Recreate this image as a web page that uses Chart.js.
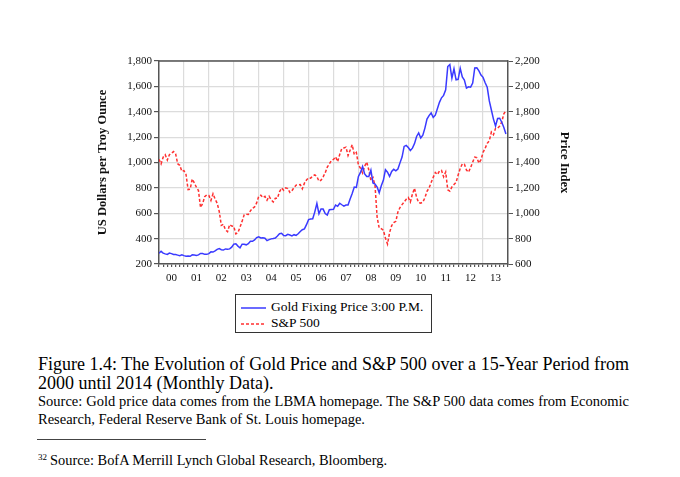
<!DOCTYPE html>
<html>
<head>
<meta charset="utf-8">
<script src="https://cdn.jsdelivr.net/npm/chart.js@4.4.0/dist/chart.umd.min.js"></script>
<style>
  body { margin: 0; background: #fff; font-family: "Liberation Serif", "Times New Roman", serif; color: #000; }
  #wrap { position: relative; width: 680px; height: 477px; overflow: hidden; }
  #chartBox { position: absolute; left: 0; top: 0; width: 680px; height: 292px; }
  #legend { position: absolute; left: 235px; top: 294px; width: 197px; height: 39px; border: 1px solid #333; box-sizing: border-box; font-size: 13.5px; }
  .leg-row { position: absolute; left: 5px; height: 16px; line-height: 16px; white-space: nowrap; }
  .leg-row svg { vertical-align: middle; margin-right: 5px; }
  .line { position: absolute; left: 38px; white-space: nowrap; }
  .just { width: 591px; white-space: normal; text-align: justify; text-align-last: justify; }
  .cap { font-size: 18px; line-height: 20px; }
  .src { font-size: 14.5px; line-height: 17px; }
  .foot { font-size: 14.4px; line-height: 16px; }
  .foot sup { font-size: 9px; vertical-align: 5px; margin-right: 3px; }
  #rule { position: absolute; left: 37px; top: 439px; width: 169px; height: 1px; background: #444; }
</style>
</head>
<body>
<div id="wrap">
  <div id="chartBox"><canvas id="goldChart"></canvas></div>
  <div id="legend"></div>
  <div class="line cap just" style="top:354px">Figure 1.4: The Evolution of Gold Price and S&amp;P 500 over a 15-Year Period from</div>
  <div class="line cap" style="top:373px">2000 until 2014 (Monthly Data).</div>
  <div class="line src just" style="top:393px">Source: Gold price data comes from the LBMA homepage. The S&amp;P 500 data comes from Economic</div>
  <div class="line src" style="top:411px">Research, Federal Reserve Bank of St. Louis homepage.</div>
  <div id="rule"></div>
  <div class="line foot" style="top:449px"><sup>32</sup>Source: BofA Merrill Lynch Global Research, Bloomberg.</div>
</div>
<script>
// monthly data, Jan 2000 .. Dec 2013
const yearLabels = ['00', '01', '02', '03', '04', '05', '06', '07', '08', '09', '10', '11', '12', '13'];

const gold = [
    285, 300, 286, 280, 275, 286, 282, 275, 274, 270, 266, 272,
    266, 262, 263, 261, 272, 270, 268, 272, 283, 283, 276, 276,
    282, 296, 294, 303, 315, 321, 313, 310, 319, 317, 319, 333,
    357, 359, 341, 328, 356, 356, 351, 360, 379, 379, 390, 408,
    414, 405, 407, 403, 384, 392, 398, 401, 405, 421, 439, 442,
    424, 423, 434, 429, 422, 431, 425, 438, 456, 470, 477, 510,
    550, 555, 557, 611, 677, 596, 634, 633, 598, 586, 628, 630,
    631, 665, 655, 679, 667, 656, 665, 665, 713, 755, 806, 803,
    890, 922, 968, 910, 889, 890, 940, 839, 830, 807, 761, 816,
    859, 943, 924, 890, 929, 946, 934, 949, 997, 1043, 1127, 1135,
    1118, 1095, 1113, 1149, 1205, 1233, 1193, 1216, 1271, 1342, 1370, 1391,
    1356, 1373, 1424, 1474, 1510, 1529, 1573, 1756, 1772, 1665, 1739, 1652,
    1656, 1742, 1674, 1650, 1586, 1597, 1594, 1626, 1745, 1747, 1722, 1689,
    1671, 1628, 1593, 1485, 1414, 1342, 1287, 1347, 1349, 1317, 1276, 1225
];

const sp500 = [
    1426, 1389, 1442, 1461, 1419, 1462, 1473, 1486, 1468, 1390, 1378, 1331,
    1336, 1306, 1186, 1190, 1270, 1239, 1205, 1179, 1045, 1077, 1130, 1145,
    1140, 1101, 1154, 1112, 1079, 1014, 904, 913, 868, 855, 910, 899,
    896, 838, 847, 890, 936, 988, 993, 990, 1019, 1039, 1050, 1081,
    1133, 1143, 1124, 1133, 1103, 1133, 1106, 1089, 1118, 1118, 1169, 1199,
    1181, 1200, 1195, 1164, 1178, 1202, 1222, 1224, 1226, 1192, 1237, 1262,
    1279, 1277, 1294, 1302, 1290, 1253, 1260, 1287, 1318, 1363, 1389, 1416,
    1424, 1445, 1407, 1464, 1511, 1515, 1521, 1455, 1497, 1540, 1463, 1479,
    1379, 1355, 1317, 1371, 1403, 1341, 1257, 1282, 1217, 969, 883, 878,
    866, 805, 757, 848, 902, 926, 936, 1010, 1045, 1068, 1088, 1110,
    1124, 1089, 1152, 1197, 1125, 1083, 1080, 1087, 1122, 1172, 1199, 1242,
    1283, 1321, 1305, 1332, 1338, 1287, 1325, 1185, 1174, 1207, 1226, 1243,
    1301, 1353, 1389, 1386, 1341, 1324, 1360, 1403, 1443, 1438, 1395, 1422,
    1480, 1512, 1551, 1571, 1640, 1619, 1669, 1670, 1687, 1720, 1784, 1808
];

const FONT = '"Liberation Serif", "Times New Roman", serif';
const AXIS = '#555';
const GRID = '#dcdcdc';

// top edge of the plot frame
const framePlugin = {
    id: 'frame',
    beforeDatasetsDraw(chart) {
        const { ctx, chartArea: a } = chart;
        ctx.save();
        ctx.strokeStyle = AXIS;
        ctx.lineWidth = 1.5;
        ctx.beginPath();
        ctx.moveTo(a.left, a.top);
        ctx.lineTo(a.right, a.top);
        ctx.stroke();
        ctx.restore();
    }
};

const ctx = document.getElementById('goldChart').getContext('2d');

const chart = new Chart(ctx, {
    type: 'line',
    data: {
        datasets: [
            {
                label: 'Gold Fixing Price 3:00 P.M.',
                data: gold.map((v, i) => ({ x: i, y: v })),
                borderColor: '#3a3aff',
                borderWidth: 1.5,
                pointRadius: 0,
                tension: 0,
                yAxisID: 'y'
            },
            {
                label: 'S&P 500',
                data: sp500.map((v, i) => ({ x: i, y: v })),
                borderColor: '#ff3030',
                borderWidth: 1.5,
                borderDash: [3, 2],
                pointRadius: 0,
                tension: 0,
                yAxisID: 'y1'
            }
        ]
    },
    options: {
        responsive: true,
        maintainAspectRatio: false,
        animation: false,
        layout: { padding: { left: 91, right: 104, top: 61, bottom: 0 } },
        plugins: {
            legend: { display: false },
            tooltip: { enabled: false }
        },
        scales: {
            x: {
                type: 'linear',
                min: 0,
                max: yearLabels.length * 12,
                afterBuildTicks: scale => {
                    const ticks = [];
                    for (let m = 0; m <= yearLabels.length * 12; m += 2) ticks.push({ value: m });
                    scale.ticks = ticks;
                },
                afterFit: scale => { scale.height = 28; },
                ticks: {
                    autoSkip: false,
                    maxRotation: 0,
                    minRotation: 0,
                    padding: 5,
                    color: '#111',
                    font: { family: FONT, size: 11 },
                    callback: v => (v % 12 === 6 ? yearLabels[(v - 6) / 12] : '')
                },
                grid: {
                    color: c => {
                        const v = c.tick ? c.tick.value : 0;
                        return (v % 12 === 0 && v > 0 && v < yearLabels.length * 12) ? GRID : 'rgba(0,0,0,0)';
                    },
                    lineWidth: 1.2,
                    tickColor: AXIS,
                    tickLength: 3
                },
                border: { color: AXIS, width: 1.5 }
            },
            y: {
                position: 'left',
                min: 200,
                max: 1800,
                afterFit: scale => { scale.width = 68; },
                ticks: {
                    stepSize: 200,
                    padding: 2,
                    color: '#111',
                    font: { family: FONT, size: 11 },
                    callback: v => v.toLocaleString('en-US')
                },
                grid: { color: GRID, lineWidth: 1.2, tickColor: AXIS, tickLength: 5 },
                border: { color: AXIS, width: 1.5 },
                title: {
                    display: true,
                    text: 'US Dollars per Troy Ounce',
                    color: '#111',
                    font: { family: FONT, size: 12.5, weight: 'bold' }
                }
            },
            y1: {
                position: 'right',
                min: 600,
                max: 2200,
                afterFit: scale => { scale.width = 68; },
                ticks: {
                    stepSize: 200,
                    padding: 2,
                    color: '#111',
                    font: { family: FONT, size: 11 },
                    callback: v => v.toLocaleString('en-US')
                },
                grid: { drawOnChartArea: false, tickColor: AXIS, tickLength: 5 },
                border: { color: AXIS, width: 1.5 },
                title: {
                    display: true,
                    text: 'Price Index',
                    color: '#111',
                    font: { family: FONT, size: 12.5, weight: 'bold' }
                }
            }
        }
    },
    plugins: [framePlugin]
});

// boxed legend under the plot
const legendBox = document.getElementById('legend');
chart.data.datasets.forEach((ds, i) => {
    const row = document.createElement('div');
    row.className = 'leg-row';
    row.style.top = (i === 0 ? 4 : 20) + 'px';
    const dash = ds.borderDash ? ds.borderDash.join(',') : 'none';
    row.innerHTML = '<svg width="25" height="4"><line x1="0" y1="2" x2="25" y2="2" stroke="' + ds.borderColor +
        '" stroke-width="1.5" stroke-dasharray="' + dash + '"/></svg>';
    row.appendChild(document.createTextNode(ds.label));
    legendBox.appendChild(row);
});
</script>
</body>
</html>
